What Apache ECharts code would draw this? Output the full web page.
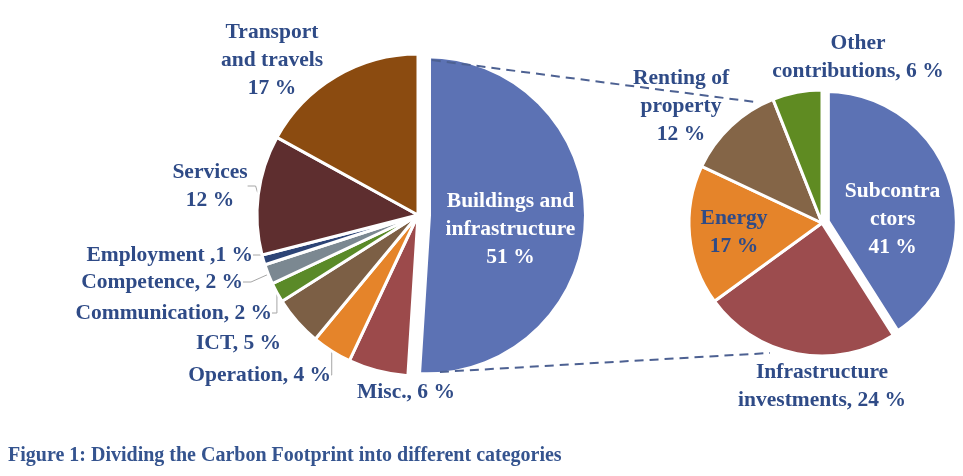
<!DOCTYPE html>
<html><head><meta charset="utf-8">
<script src="https://cdn.jsdelivr.net/npm/echarts@6/dist/echarts.min.js"></script>
<style>html,body{margin:0;padding:0;background:#fff}#c{width:963px;height:476px}</style>
</head><body><div id="c"></div>
<script>
// ---- data ----
const mainCategories = ['Buildings and infrastructure','Misc.','Operation','ICT','Communication','Competence','Employment','Services','Transport and travels'];
const mainValues = [51, 6, 4, 5, 2, 2, 1, 12, 17];
const mainLabels = ['Buildings and\ninfrastructure\n51 %','Misc., 6 %','Operation, 4 %','ICT, 5 %','Communication, 2 %','Competence, 2 %','Employment ,1 %','Services\n12 %','Transport\nand travels\n17 %'];
const subCategories = ['Subcontractors','Infrastructure investments','Energy','Renting of property','Other contributions'];
const subValues = [41, 24, 17, 12, 6];
const subLabels = ['Subcontra\nctors\n41 %','Infrastructure\ninvestments, 24 %','Energy\n17 %','Renting of\nproperty\n12 %','Other\ncontributions, 6 %'];
const captionText = 'Figure 1: Dividing the Carbon Footprint into different categories';

// ---- styles / layout ----
const mainColors = ['#5c72b4','#9c4a4b','#e5842a','#7c5f45','#5a8a28','#7b8891','#2c4476','#5e2e2f','#8b4b10'];
const subColors = ['#5c72b4','#9c4c4e','#e5842a','#846547','#5f8b22'];
const TXT = '#2f4b87';
const FONT = 'Liberation Serif';
const L = {cx: 418, cy: 215, r: 161, off: 9};
const R = {cx: 822, cy: 223, r: 133, off: 4};
// label anchors: [x, y, align]; null = library default position (nudged with spacer)
const mainLabelPos = [null,[357,392,'left'],[331,375,'right'],[281,343,'right'],[272,313,'right'],[243,282,'right'],[253,255,'right'],[210,186,'center'],[272,60,'center']];
const mainInside = ['#fff', null, null, null, null, null, null, null, null];
const mainSpacer = [24, 0, 0, 0, 0, 0, 0, 0, 0];   // vertical nudge of inside labels (2x shift)
const mainLineShow = [false,false,true,false,true,true,true,true,false];
const subLabelPos = [null,[822,386,'center'],[734,232,'center'],[681,106,'center'],[858,57,'center']];
const subInside = ['#fff', null, TXT, null, null];
const subSpacer = [34, 0, 0, 0, 0];

function polar(cx, cy, r, a) {
  const t = a * Math.PI / 180;
  return [cx + r * Math.sin(t), cy - r * Math.cos(t)];
}

function itemLabel(ins) {
  return ins ? {position: 'inside', color: ins} : {position: 'outside', color: TXT};
}
function fmt(texts, spacers) {
  return p => {
    const s = spacers[p.dataIndex];
    const t = texts[p.dataIndex];
    return s ? '{sp' + s + '| }\n' + t : t;
  };
}
function spacerRich(list) {
  const r = {};
  list.forEach(s => { if (s) r['sp' + s] = {fontSize: 1, lineHeight: s}; });
  return r;
}

const mainData = mainCategories.map((n, i) => ({
  name: n, value: mainValues[i],
  selected: i === 0,
  itemStyle: {color: mainColors[i], borderWidth: i === 0 ? 8 : 3},
  label: itemLabel(mainInside[i]),
  labelLine: {show: mainLineShow[i]}
}));
const subData = subCategories.map((n, i) => ({
  name: n, value: subValues[i],
  selected: i === 0,
  itemStyle: {color: subColors[i], borderWidth: i === 0 ? 8 : 3},
  label: itemLabel(subInside[i]),
  labelLine: {show: false}
}));

const bc = [L.cx + L.off, L.cy];
const u1 = polar(bc[0], bc[1], 155, 1.8), u2 = polar(R.cx, R.cy, 137, 331.8);
const l1 = polar(bc[0], bc[1], 157.5, 175.3), l2 = polar(R.cx, R.cy, 140, 201.8);
const dashStyle = {stroke: '#4d6192', lineWidth: 2, lineDash: [9, 6]};

const labelCommon = {fontFamily: FONT, fontWeight: 'bold', fontSize: 21.5, lineHeight: 28};

function layoutFrom(arr) {
  return p => {
    const q = arr[p.dataIndex];
    return q ? {x: q[0], y: q[1], align: q[2], verticalAlign: 'middle'} : {};
  };
}

const option = {
  animation: false,
  backgroundColor: '#fff',
  title: {
    text: captionText, left: 3, top: 441,
    textStyle: {fontFamily: FONT, fontWeight: 'bold', fontSize: 20, color: '#35548f'}
  },
  graphic: [
    {type: 'line', z: 100, shape: {x1: u1[0], y1: u1[1], x2: u2[0], y2: u2[1]}, style: dashStyle},
    {type: 'line', z: 100, shape: {x1: l1[0], y1: l1[1], x2: l2[0], y2: l2[1]}, style: dashStyle}
  ],
  series: [
    {
      type: 'pie', center: [L.cx, L.cy], radius: L.r, startAngle: 90, clockwise: true,
      selectedMode: 'single', selectedOffset: L.off, avoidLabelOverlap: false,
      emphasis: {disabled: true},
      itemStyle: {borderColor: '#fff'},
      label: Object.assign({formatter: fmt(mainLabels, mainSpacer), rich: spacerRich(mainSpacer)}, labelCommon),
      labelLine: {lineStyle: {color: '#a6a6a6', width: 1}, length: 8, length2: 8},
      labelLayout: layoutFrom(mainLabelPos),
      data: mainData
    },
    {
      type: 'pie', center: [R.cx, R.cy], radius: R.r, startAngle: 90, clockwise: true,
      selectedMode: 'single', selectedOffset: R.off, avoidLabelOverlap: false,
      emphasis: {disabled: true},
      itemStyle: {borderColor: '#fff'},
      label: Object.assign({formatter: fmt(subLabels, subSpacer), rich: spacerRich(subSpacer)}, labelCommon),
      labelLine: {show: false},
      labelLayout: layoutFrom(subLabelPos),
      data: subData
    }
  ]
};
const chart = echarts.init(document.getElementById('c'));
chart.setOption(option);
</script></body></html>
